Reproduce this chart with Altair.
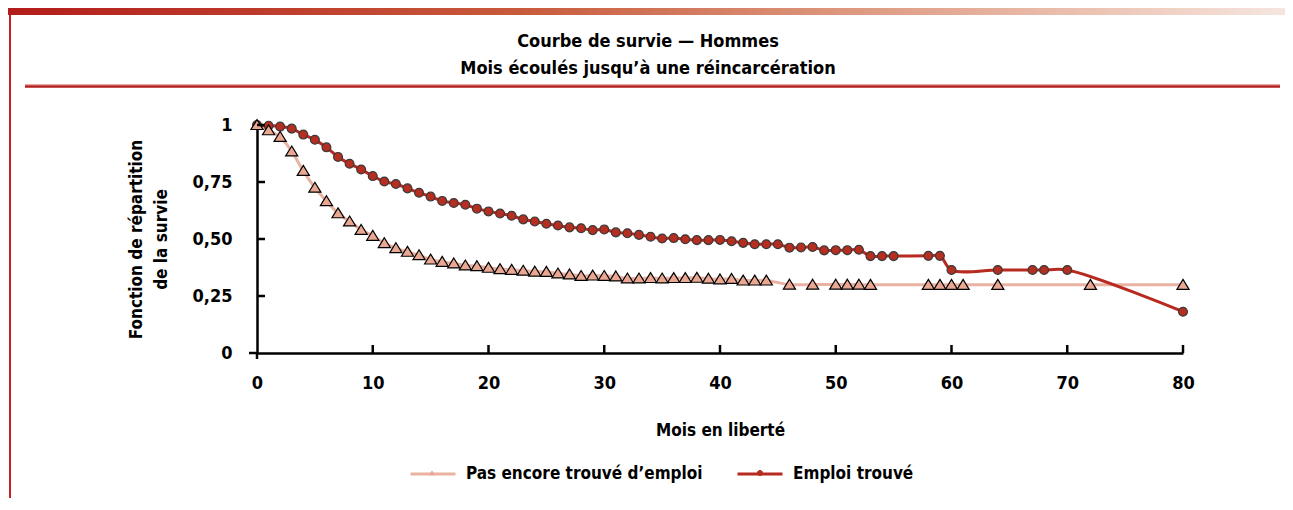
import altair as alt
import pandas as pd

# ---------------- data ----------------
SERIES = ["Pas encore trouvé d’emploi", "Emploi trouvé"]

mois_pas = list(range(0, 45)) + [46, 48, 50, 51, 52, 53, 58, 59, 60, 61, 64, 72, 80]
surv_pas = [1.0, 0.977, 0.948, 0.884, 0.799, 0.725, 0.666, 0.613, 0.577, 0.540,
            0.514, 0.482, 0.460, 0.444, 0.429, 0.410, 0.400, 0.393, 0.384, 0.381,
            0.374, 0.368, 0.365, 0.361, 0.357, 0.356, 0.349, 0.345, 0.338, 0.340,
            0.338, 0.336, 0.327, 0.327, 0.329, 0.327, 0.329, 0.329, 0.330, 0.326,
            0.323, 0.325, 0.318, 0.318, 0.318,
            0.300, 0.300, 0.300, 0.300, 0.300, 0.299,
            0.299, 0.299, 0.299, 0.299, 0.299, 0.299, 0.299]

mois_emploi = list(range(0, 56)) + [58, 59, 60, 64, 67, 68, 70, 80]
surv_emploi = [1.0, 0.997, 0.993, 0.984, 0.958, 0.935, 0.902, 0.860, 0.830, 0.805,
               0.776, 0.752, 0.741, 0.722, 0.703, 0.686, 0.667, 0.658, 0.650, 0.633,
               0.621, 0.612, 0.602, 0.586, 0.577, 0.567, 0.559, 0.551, 0.547, 0.539,
               0.542, 0.529, 0.525, 0.518, 0.510, 0.502, 0.504, 0.499, 0.495, 0.495,
               0.496, 0.490, 0.483, 0.477, 0.477, 0.477, 0.462, 0.463, 0.465, 0.450,
               0.451, 0.451, 0.453, 0.425, 0.425, 0.425,
               0.426, 0.426, 0.364, 0.364, 0.364, 0.364, 0.364, 0.181]

x_ticks = [0, 10, 20, 30, 40, 50, 60, 70, 80]
y_ticks = [0, 0.25, 0.5, 0.75, 1]
y_tick_labels = ["0", "0,25", "0,50", "0,75", "1"]

TITLE_1 = "Courbe de survie — Hommes"
TITLE_2 = "Mois écoulés jusqu’à une réincarcération"
X_TITLE = "Mois en liberté"
Y_TITLE = ["Fonction de répartition", "de la survie"]

# ---------------- styling ----------------
FONT = "Liberation Sans Narrow, Arial Narrow, DejaVu Sans Condensed, sans-serif"
PINK_LINE = "#e9b2a2"
RED_LINE = "#b8291f"
TRI_FILL = "#eaa893"
CIRC_FILL = "#b52e20"
TRI_PATH = "M0,-0.12L0.135,0.1L-0.135,0.1Z"
CIRC_PATH = "M0.135,0A0.135,0.135 0 1,1 -0.135,0A0.135,0.135 0 1,1 0.135,0Z"

W, H = 926, 228
ZW = "\u200b"  # marker series keys (invisible suffix keeps the two legends apart)
SERIES_PT = [s + ZW for s in SERIES]

df_pas = pd.DataFrame({"mois": mois_pas, "survie": surv_pas, "serie": SERIES[0]})
df_emp = pd.DataFrame({"mois": mois_emploi, "survie": surv_emploi, "serie": SERIES[1]})
df = pd.concat([df_pas, df_emp], ignore_index=True)
df["serie_pt"] = df["serie"] + ZW
df_pas = df[df["serie"] == SERIES[0]]
df_emp = df[df["serie"] == SERIES[1]]

label_expr = " : ".join(
    f"datum.value == {v} ? '{t}'" for v, t in zip(y_ticks, y_tick_labels)
) + " : ''"

x_enc = alt.X(
    "mois:Q",
    scale=alt.Scale(domain=[0, 80], nice=False, zero=False),
    axis=alt.Axis(
        values=x_ticks, format="d", title=X_TITLE, ticks=False, tickSize=0,
        domainColor="black", domainWidth=2.5, grid=False, labelFlush=False,
        labelFont=FONT, labelFontSize=18, labelFontWeight="bold", labelColor="black",
        labelPadding=21, titleFont=FONT, titleFontSize=17, titleFontWeight="bold",
        titleColor="black", titlePadding=30,
    ),
)
y_enc = alt.Y(
    "survie:Q",
    scale=alt.Scale(domain=[0, 1], nice=False),
    axis=alt.Axis(
        values=y_ticks, labelExpr=label_expr, title=Y_TITLE, ticks=False, tickSize=0,
        domainColor="black", domainWidth=2.5, grid=False, labelFlush=False,
        labelFont=FONT, labelFontSize=18, labelFontWeight="bold", labelColor="black",
        labelPadding=25, titleFont=FONT, titleFontSize=17, titleFontWeight="bold",
        titleColor="black", titlePadding=22, titleLineHeight=25,
    ),
)

leg_common = dict(
    orient="none", legendX=152, legendY=325, direction="horizontal", columns=2,
    title=None, symbolSize=2025, labelFont=FONT, labelFontSize=17,
    labelFontWeight="bold", labelColor="black", labelOffset=9,
    padding=0, labelLimit=500,
)
leg_line = alt.Legend(symbolType="stroke", symbolStrokeWidth=3, columnPadding=28,
                      **leg_common)
leg_pts = alt.Legend(symbolStrokeColor="black", symbolStrokeWidth=1, labelExpr="''",
                     columnPadding=273, zindex=1, **leg_common)

lines = alt.Chart(df).mark_line(strokeWidth=3, interpolate="catmull-rom").encode(
    x=x_enc, y=y_enc,
    stroke=alt.Stroke("serie:N", scale=alt.Scale(domain=SERIES, range=[PINK_LINE, RED_LINE]),
                      legend=leg_line),
)

fill_enc = alt.Fill("serie_pt:N", scale=alt.Scale(domain=SERIES_PT, range=[TRI_FILL, CIRC_FILL]),
                    legend=leg_pts)
shape_enc = alt.Shape("serie_pt:N", scale=alt.Scale(domain=SERIES_PT, range=[TRI_PATH, CIRC_PATH]),
                      legend=leg_pts)

circles = alt.Chart(df_emp).mark_point(filled=True, size=4300, stroke="#3a3a3a",
                                       strokeWidth=1.2, opacity=1).encode(
    x=x_enc, y=y_enc, fill=fill_enc, shape=shape_enc)
triangles = alt.Chart(df_pas).mark_point(filled=True, size=8100, stroke="black",
                                         strokeWidth=1.2, opacity=1).encode(
    x=x_enc, y=y_enc, fill=fill_enc, shape=shape_enc)

# inward tick marks, placed through the scales
x_tick_rules = alt.Chart(pd.DataFrame({"mois": x_ticks[1:]})).mark_rule(
    color="black", strokeWidth=2.5).encode(
    x=x_enc, y=alt.value(H), y2=alt.value(H - 8))
y_tick_rules = alt.Chart(pd.DataFrame({"survie": y_ticks[1:]})).mark_rule(
    color="black", strokeWidth=2.5).encode(
    y=y_enc, x=alt.value(0), x2=alt.value(8))

one = pd.DataFrame({"a": [0]})
ext_h = alt.Chart(one).mark_rule(color="black", strokeWidth=2.5).encode(
    x=alt.value(-8), x2=alt.value(0), y=alt.value(H))
ext_v = alt.Chart(one).mark_rule(color="black", strokeWidth=2.5).encode(
    x=alt.value(0), y=alt.value(H), y2=alt.value(H + 6))

# page decorations
gradient = alt.LinearGradient(
    gradient="linear", x1=0, x2=1, y1=0, y2=0,
    stops=[alt.GradientStop(color="#b31d1b", offset=0),
           alt.GradientStop(color="#c85a3c", offset=0.4),
           alt.GradientStop(color="#dc967c", offset=0.65),
           alt.GradientStop(color="#ecc3b3", offset=0.85),
           alt.GradientStop(color="#f6e6df", offset=1)],
)
header = alt.Chart(one).mark_rect(fill=gradient).encode(
    x=alt.value(-249), x2=alt.value(1028), y=alt.value(-117), y2=alt.value(-110))
left_bar = alt.Chart(one).mark_rule(color="#c0231f", strokeWidth=2).encode(
    x=alt.value(-247), y=alt.value(-110), y2=alt.value(373))
rule_light = alt.Chart(one).mark_rule(color="#e9a3a0", strokeWidth=1).encode(
    x=alt.value(-232), x2=alt.value(1023), y=alt.value(-40.5))
rule_dark = alt.Chart(one).mark_rule(color="#b21e1c", strokeWidth=2.5).encode(
    x=alt.value(-232), x2=alt.value(1023), y=alt.value(-38.5))

title1 = alt.Chart(one).mark_text(text=TITLE_1, font=FONT, fontSize=18, fontWeight="bold",
                                  color="black", align="center", baseline="middle").encode(
    x=alt.value(391), y=alt.value(-83))
title2 = alt.Chart(one).mark_text(text=TITLE_2, font=FONT, fontSize=18, fontWeight="bold",
                                  color="black", align="center", baseline="middle").encode(
    x=alt.value(391), y=alt.value(-56))

chart = alt.layer(
    header, left_bar, rule_light, rule_dark, title1, title2,
    lines, circles, triangles, x_tick_rules, y_tick_rules, ext_h, ext_v,
).properties(
    width=W, height=H, background="white",
    padding={"left": 249, "top": 117, "right": 102, "bottom": 145},
    autosize=alt.AutoSizeParams(type="none"),
).configure_view(stroke=None)

chart.save("out.html", embed_options={"renderer": "svg", "actions": False})
